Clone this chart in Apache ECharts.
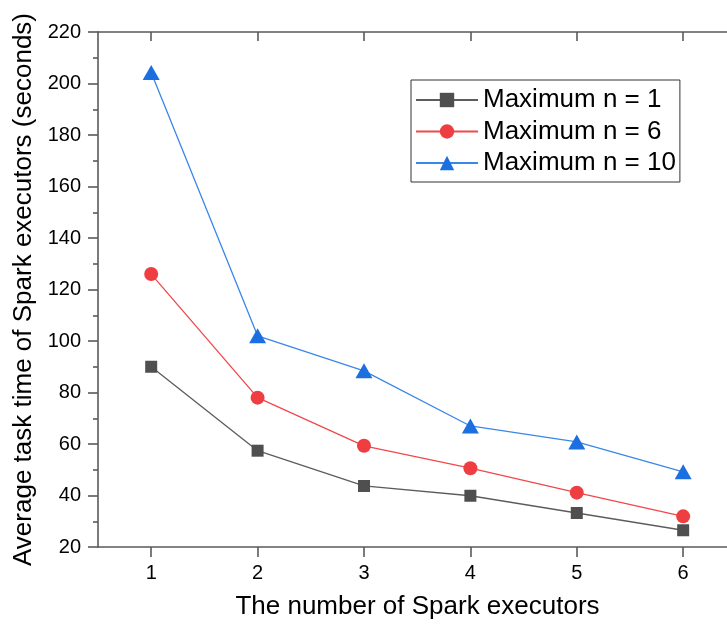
<!DOCTYPE html>
<html>
<head>
<meta charset="utf-8">
<script src="https://cdn.jsdelivr.net/npm/echarts@6/dist/echarts.min.js"></script>
<style>
html,body{margin:0;padding:0;background:#fff;}
#chart{width:727px;height:628px;}
</style>
</head>
<body>
<div id="chart"></div>
<script>
const categories = [1, 2, 3, 4, 5, 6];
const seriesNames = ['Maximum n = 1', 'Maximum n = 6', 'Maximum n = 10'];
const maxN1 = [90, 57.4, 43.7, 39.9, 33.2, 26.5];
const maxN6 = [126, 78, 59.3, 50.6, 41.1, 31.9];
const maxN10 = [204.3, 102, 88.4, 67, 60.8, 49.2];
const yTicks = { min: 20, max: 220, interval: 20 };
const xRange = { min: 0.5, max: 6.412 };

const FONT = '"Liberation Sans", Arial, sans-serif';
const axisColor = '#5a5a5a';

const chart = echarts.init(document.getElementById('chart'), null, { renderer: 'canvas' });

function mkSeries(name, values, symbol, size, markerColor, lineColor) {
  return {
    name: name,
    type: 'line',
    data: categories.map((c, i) => [c, values[i]]),
    symbol: symbol,
    symbolSize: size,
    showSymbol: true,
    lineStyle: { color: lineColor, width: 1.3 },
    itemStyle: { color: markerColor, borderColor: markerColor, borderWidth: 0 },
    emphasis: { disabled: true },
    animation: false,
    z: 3
  };
}

const xTickCommon = { show: true, customValues: categories, lineStyle: { color: axisColor, width: 1.6 } };

chart.setOption({
  backgroundColor: '#ffffff',
  animation: false,
  grid: { left: 98, top: 32, right: 0, bottom: 81, containLabel: false },
  legend: {
    left: 411,
    top: 80,
    orient: 'vertical',
    data: seriesNames,
    borderColor: '#333',
    borderWidth: 1,
    padding: [7, 4, 6, 4],
    itemWidth: 62,
    itemHeight: 18,
    itemGap: 5.5,
    textStyle: { fontFamily: FONT, fontSize: 26, color: '#000', lineHeight: 26 },
    selectedMode: false
  },
  xAxis: [
    {
      type: 'value',
      min: xRange.min,
      max: xRange.max,
      position: 'bottom',
      name: 'The number of Spark executors',
      nameLocation: 'middle',
      nameGap: 47,
      nameTextStyle: { fontFamily: FONT, fontSize: 26, color: '#000', padding: [0, 0, 0, 10] },
      axisLine: { show: true, onZero: false, lineStyle: { color: axisColor, width: 1.6 } },
      axisTick: Object.assign({ inside: false, length: 10 }, xTickCommon),
      axisLabel: { show: true, customValues: categories, fontFamily: FONT, fontSize: 20, color: '#000', margin: 16 },
      splitLine: { show: false }
    },
    {
      type: 'value',
      min: xRange.min,
      max: xRange.max,
      position: 'top',
      axisLine: { show: true, onZero: false, lineStyle: { color: axisColor, width: 1.6 } },
      axisTick: Object.assign({ inside: true, length: 9 }, xTickCommon),
      axisLabel: { show: false },
      splitLine: { show: false }
    }
  ],
  yAxis: {
    type: 'value',
    min: yTicks.min,
    max: yTicks.max,
    interval: yTicks.interval,
    name: 'Average task time of Spark executors (seconds)',
    nameLocation: 'middle',
    nameGap: 58,
    nameTextStyle: { fontFamily: FONT, fontSize: 26, color: '#000' },
    axisLine: { show: true, lineStyle: { color: axisColor, width: 1.6 } },
    axisTick: { show: true, inside: false, length: 10, lineStyle: { color: axisColor, width: 1.6 } },
    minorTick: { show: true, splitNumber: 2, length: 5, lineStyle: { color: axisColor, width: 1.6 } },
    axisLabel: { fontFamily: FONT, fontSize: 20, color: '#000', margin: 17 },
    splitLine: { show: false },
    minorSplitLine: { show: false }
  },
  series: [
    mkSeries(seriesNames[0], maxN1, 'rect', 12, '#4f4f4f', '#5c5c5c'),
    mkSeries(seriesNames[1], maxN6, 'circle', 14, '#ef3e42', '#f0484b'),
    mkSeries(seriesNames[2], maxN10, 'triangle', [17, 15], '#1b6fe0', '#3a86ea')
  ]
});
</script>
</body>
</html>
